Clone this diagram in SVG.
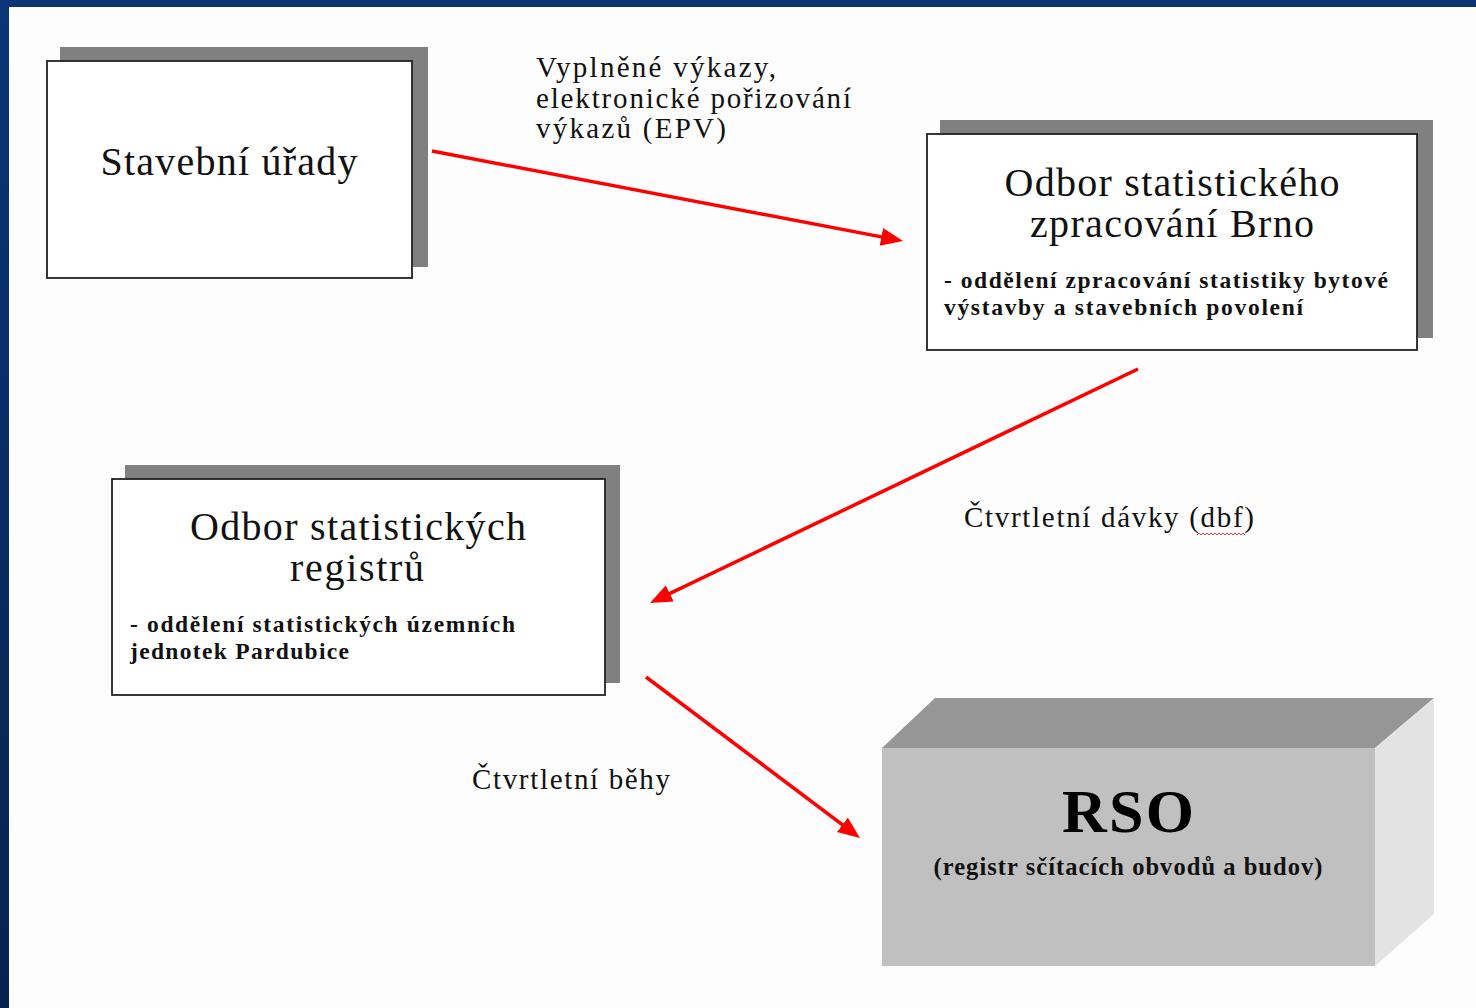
<svg xmlns="http://www.w3.org/2000/svg" width="1476" height="1008" viewBox="0 0 1476 1008">
<style>
.title{font-family:"Liberation Serif","Times New Roman",serif;font-size:40px;fill:#111;text-anchor:middle}
.sub{font-family:"Liberation Serif","Times New Roman",serif;font-size:23.5px;font-weight:bold;fill:#111}
.lbl{font-family:"Liberation Serif","Times New Roman",serif;font-size:29px;fill:#111}
.shadow{fill:#808080}
.box{fill:#fff;stroke:#222;stroke-width:1.8}
.conn{stroke:#ff0000;stroke-width:3.5;fill:none;marker-end:url(#ah)}
</style>
<defs>
<marker id="ah" markerUnits="userSpaceOnUse" markerWidth="26" markerHeight="22" refX="16" refY="9" orient="auto" viewBox="0 0 26 22">
<path d="M0,0 L22,9 L0,18 z" fill="#ff0000"/>
</marker>
<linearGradient id="bl" x1="0" y1="0" x2="0" y2="1">
<stop offset="0" stop-color="#0b3576"/>
<stop offset="1" stop-color="#07224f"/>
</linearGradient>
</defs>
<rect x="0" y="0" width="1476" height="1008" fill="#fdfdfd"/>
<rect x="0" y="0" width="1476" height="7" fill="#0b3474"/>
<rect x="0" y="0" width="9" height="1008" fill="url(#bl)"/>

<g id="connectors">
<line class="conn" x1="432" y1="151" x2="897.1" y2="239.9"/>
<line class="conn" x1="1138" y1="369" x2="655.4" y2="600.4"/>
<line class="conn" x1="646" y1="677" x2="855.2" y2="834.4"/>
<text class="lbl" x="536" y="77" textLength="240" lengthAdjust="spacing">Vyplněné výkazy,</text>
<text class="lbl" x="536" y="108" textLength="315" lengthAdjust="spacing">elektronické pořizování</text>
<text class="lbl" x="536" y="138" textLength="190" lengthAdjust="spacing">výkazů (EPV)</text>
<text class="lbl" x="964" y="527" textLength="290" lengthAdjust="spacing">Čtvrtletní dávky (dbf)</text>
<path d="M1197,535 l2,-2 l2,2 l2,-2 l2,2 l2,-2 l2,2 l2,-2 l2,2 l2,-2 l2,2 l2,-2 l2,2 l2,-2 l2,2 l2,-2 l2,2 l2,-2 l2,2 l2,-2 l2,2 l2,-2 l2,2 l2,-2 l2,2" stroke="#ff3030" stroke-width="1" fill="none"/>
<text class="lbl" x="472" y="789" textLength="198" lengthAdjust="spacing">Čtvrtletní běhy</text>
</g>

<g id="stavebni-urady">
<rect class="shadow" x="60" y="47" width="368" height="220"/>
<rect class="box" x="47" y="61" width="365" height="217"/>
<text class="title" x="229" y="175" textLength="257" lengthAdjust="spacing">Stavební úřady</text>
</g>

<g id="odbor-brno">
<rect class="shadow" x="940" y="120" width="493" height="218"/>
<rect class="box" x="927" y="134" width="490" height="216"/>
<text class="title" x="1172" y="196" textLength="335" lengthAdjust="spacing">Odbor statistického</text>
<text class="title" x="1172" y="237" textLength="284" lengthAdjust="spacing">zpracování Brno</text>
<text class="sub" x="944" y="288" textLength="444" lengthAdjust="spacing">- oddělení zpracování statistiky bytové</text>
<text class="sub" x="944" y="315" textLength="359" lengthAdjust="spacing">výstavby a stavebních povolení</text>
</g>

<g id="odbor-registru">
<rect class="shadow" x="125" y="465" width="495" height="218"/>
<rect class="box" x="112" y="479" width="493" height="216"/>
<text class="title" x="358" y="540" textLength="336" lengthAdjust="spacing">Odbor statistických</text>
<text class="title" x="357" y="581" textLength="134" lengthAdjust="spacing">registrů</text>
<text class="sub" x="130" y="632" textLength="385" lengthAdjust="spacing">- oddělení statistických územních</text>
<text class="sub" x="130" y="659" textLength="219" lengthAdjust="spacing">jednotek Pardubice</text>
</g>

<g id="rso">
<polygon points="882,748 935,698 1434,698 1375,748" fill="#969696"/>
<polygon points="1375,748 1434,698 1434,914 1375,966" fill="#e3e3e3"/>
<rect x="882" y="748" width="493" height="218" fill="#c0c0c0"/>
<text x="1128" y="832" text-anchor="middle" font-family="Liberation Serif, Times New Roman, serif" font-size="62" font-weight="bold" fill="#000" textLength="132" lengthAdjust="spacing">RSO</text>
<text x="1128" y="875" text-anchor="middle" font-family="Liberation Serif, Times New Roman, serif" font-size="24.5" font-weight="bold" fill="#111" textLength="389" lengthAdjust="spacing">(registr sčítacích obvodů a budov)</text>
</g>
</svg>
